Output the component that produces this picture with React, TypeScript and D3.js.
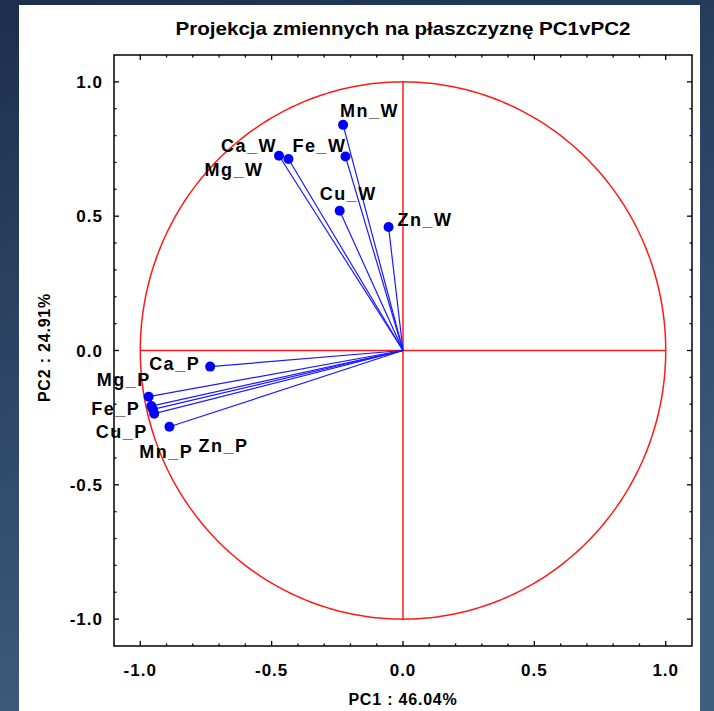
import React from 'react';
import * as d3 from 'd3';

// variable names and their loadings on PC1 / PC2
const names = ['Mn_W', 'Fe_W', 'Ca_W', 'Mg_W', 'Cu_W', 'Zn_W', 'Ca_P', 'Mg_P', 'Fe_P', 'Cu_P', 'Mn_P', 'Zn_P'];
const pc1 = [-0.228, -0.219, -0.472, -0.436, -0.241, -0.055, -0.734, -0.968, -0.958, -0.952, -0.947, -0.889];
const pc2 = [0.84, 0.722, 0.725, 0.713, 0.52, 0.46, -0.06, -0.172, -0.207, -0.219, -0.235, -0.284];

const majorTicks = [-1.0, -0.5, 0.0, 0.5, 1.0];
const tickLabels = ['-1.0', '-0.5', '0.0', '0.5', '1.0'];
const minorTicks = d3.range(-10, 11).map((i) => i / 10);

const title = 'Projekcja zmiennych na płaszczyznę PC1vPC2';
const xTitle = 'PC1 : 46.04%';
const yTitle = 'PC2 : 24.91%';

// label placement around each point (px), Statistica-like
const labelPos: [number, number, 'start' | 'end'][] = [
  [-3, -8, 'start'],
  [1, -5, 'end'],
  [-2, -4, 'end'],
  [-25, 17, 'end'],
  [-20, -11, 'start'],
  [9, -1, 'start'],
  [-10, 3, 'end'],
  [2, -11, 'end'],
  [-11, 9, 'end'],
  [-5, 29, 'end'],
  [-15, 44, 'start'],
  [29, 25, 'start'],
];

const W = 714;
const H = 711;
const frame = { left: 114, right: 692, top: 55, bottom: 646 };

export default function App() {
  const x = d3.scaleLinear().domain([-1.1, 1.1]).range([frame.left, frame.right]);
  const y = d3.scaleLinear().domain([-1.1, 1.1]).range([frame.bottom, frame.top]);

  const circle = d3
    .line<number>()
    .x((a) => x(Math.cos(a)))
    .y((a) => y(Math.sin(a)))(d3.range(0, 361).map((d) => (d * Math.PI) / 180));

  const font = '"Liberation Sans", Arial, sans-serif';
  const isMajor = (t: number) => majorTicks.some((m) => Math.abs(m - t) < 1e-6);

  return (
    <svg width={W} height={H} style={{ position: 'absolute', left: 0, top: 0 }}>
      <defs>
        <linearGradient id="bg" x1="0" y1="0" x2="0.3" y2="1">
          <stop offset="0" stopColor="#1c2f4d" />
          <stop offset="1" stopColor="#3f5d7d" />
        </linearGradient>
      </defs>
      <rect width={W} height={H} fill="url(#bg)" />
      <rect x={19} y={5} width={681} height={H - 5} fill="#fff" />

      <text x={403} y={35} textAnchor="middle" fontFamily={font} fontWeight="bold" fontSize={19}
        textLength={455} lengthAdjust="spacingAndGlyphs" fill="#000">
        {title}
      </text>

      {/* unit circle and axes through the origin */}
      <path d={circle ?? ''} fill="none" stroke="#ff1a1a" strokeWidth={1.5} />
      <line x1={x(-1)} x2={x(1)} y1={y(0)} y2={y(0)} stroke="#ff1a1a" strokeWidth={1.5} />
      <line x1={x(0)} x2={x(0)} y1={y(-1)} y2={y(1)} stroke="#ff1a1a" strokeWidth={1.5} />

      {/* vectors */}
      {names.map((n, i) => (
        <line key={'l' + n} x1={x(0)} y1={y(0)} x2={x(pc1[i])} y2={y(pc2[i])} stroke="#1a1aff" strokeWidth={1.2} />
      ))}
      {names.map((n, i) => (
        <circle key={'c' + n} cx={x(pc1[i])} cy={y(pc2[i])} r={5} fill="#0000ff" />
      ))}
      {names.map((n, i) => (
        <text key={'t' + n} x={x(pc1[i]) + labelPos[i][0]} y={y(pc2[i]) + labelPos[i][1]}
          textAnchor={labelPos[i][2]} fontFamily={font} fontWeight="bold" fontSize={18}
          letterSpacing={1.5} fill="#000">
          {n}
        </text>
      ))}

      {/* frame and ticks */}
      <rect x={frame.left} y={frame.top} width={frame.right - frame.left} height={frame.bottom - frame.top}
        fill="none" stroke="#000" strokeWidth={1.5} />
      {minorTicks.map((t) => {
        const len = isMajor(t) ? 5 : 2.5;
        return (
          <g key={'tk' + t} stroke="#000" strokeWidth={1.3}>
            <line x1={x(t)} x2={x(t)} y1={frame.bottom} y2={frame.bottom - len} />
            <line x1={x(t)} x2={x(t)} y1={frame.top} y2={frame.top + len} />
            <line y1={y(t)} y2={y(t)} x1={frame.left} x2={frame.left + len} />
            <line y1={y(t)} y2={y(t)} x1={frame.right} x2={frame.right - len} />
          </g>
        );
      })}
      {majorTicks.map((t, i) => (
        <g key={'ml' + t} fontFamily={font} fontWeight="bold" fontSize={17} letterSpacing={1} fill="#000">
          <text x={x(t)} y={676} textAnchor="middle">{tickLabels[i]}</text>
          <text x={103} y={y(t) + 6} textAnchor="end">{tickLabels[i]}</text>
        </g>
      ))}

      <text x={403} y={705} textAnchor="middle" fontFamily={font} fontWeight="bold" fontSize={16} letterSpacing={0.8} fill="#000">
        {xTitle}
      </text>
      <text transform={`translate(50, ${(frame.top + frame.bottom) / 2 - 3}) rotate(-90)`} textAnchor="middle"
        fontFamily={font} fontWeight="bold" fontSize={16} letterSpacing={0.8} fill="#000">
        {yTitle}
      </text>
    </svg>
  );
}
